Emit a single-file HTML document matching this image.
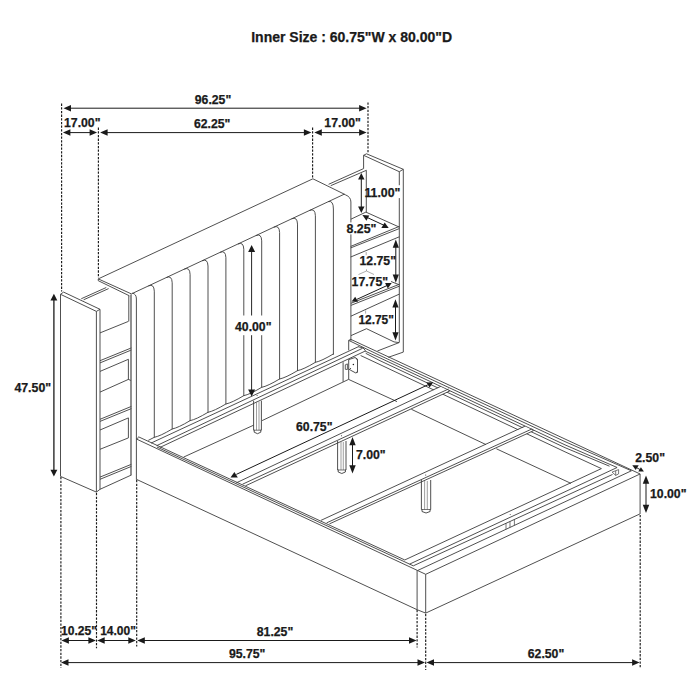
<!DOCTYPE html>
<html><head><meta charset="utf-8"><title>Bed dimensions</title>
<style>
html,body{margin:0;padding:0;background:#fff;}
svg{display:block}
text{font-family:"Liberation Sans",sans-serif;font-weight:bold;fill:#1a1a1a;stroke:#1a1a1a;stroke-width:0.25px}
</style></head><body>
<svg width="700" height="700" viewBox="0 0 700 700">
<rect width="700" height="700" fill="#fff"/>
<polyline points="60.50,476.40 60.50,294.30 63.60,292.10 100.00,309.30 100.00,489.30" fill="none" stroke="#3c3c3c" stroke-width="0.9" stroke-linejoin="round"/>
<polyline points="60.50,294.30 96.40,311.40 96.40,492.10" fill="none" stroke="#3c3c3c" stroke-width="0.9" stroke-linejoin="round"/>
<line x1="96.40" y1="311.40" x2="100.00" y2="309.30" stroke="#3c3c3c" stroke-width="0.9"/>
<polyline points="60.50,476.40 96.40,492.10 100.00,489.30 131.40,475.00" fill="none" stroke="#3c3c3c" stroke-width="0.9" stroke-linejoin="round"/>
<line x1="81.25" y1="298.75" x2="106.25" y2="287.50" stroke="#3c3c3c" stroke-width="0.9"/>
<line x1="83.60" y1="299.80" x2="108.60" y2="288.60" stroke="#3c3c3c" stroke-width="0.9"/>
<line x1="100.00" y1="332.90" x2="128.40" y2="321.40" stroke="#3c3c3c" stroke-width="0.9"/>
<line x1="100.00" y1="360.70" x2="131.40" y2="347.90" stroke="#3c3c3c" stroke-width="0.9"/>
<line x1="100.00" y1="362.90" x2="131.40" y2="350.00" stroke="#3c3c3c" stroke-width="0.9"/>
<line x1="100.00" y1="371.40" x2="128.40" y2="359.30" stroke="#3c3c3c" stroke-width="0.9"/>
<line x1="100.00" y1="392.10" x2="128.40" y2="379.40" stroke="#3c3c3c" stroke-width="0.9"/>
<line x1="128.40" y1="379.40" x2="131.00" y2="380.50" stroke="#3c3c3c" stroke-width="0.9"/>
<line x1="100.00" y1="419.30" x2="131.40" y2="406.40" stroke="#3c3c3c" stroke-width="0.9"/>
<line x1="100.00" y1="421.40" x2="131.40" y2="408.60" stroke="#3c3c3c" stroke-width="0.9"/>
<line x1="100.00" y1="430.00" x2="128.40" y2="417.90" stroke="#3c3c3c" stroke-width="0.9"/>
<line x1="100.00" y1="449.30" x2="128.40" y2="437.90" stroke="#3c3c3c" stroke-width="0.9"/>
<line x1="100.00" y1="477.10" x2="131.40" y2="464.30" stroke="#3c3c3c" stroke-width="0.9"/>
<line x1="100.00" y1="479.30" x2="131.40" y2="466.40" stroke="#3c3c3c" stroke-width="0.9"/>
<line x1="128.80" y1="295.80" x2="128.80" y2="321.40" stroke="#3c3c3c" stroke-width="0.9"/>
<line x1="128.40" y1="359.30" x2="128.40" y2="379.80" stroke="#3c3c3c" stroke-width="0.9"/>
<line x1="128.40" y1="417.90" x2="128.40" y2="437.90" stroke="#3c3c3c" stroke-width="0.9"/>
<line x1="131.00" y1="294.60" x2="131.00" y2="475.20" stroke="#555" stroke-width="1.3"/>
<polyline points="131.40,293.90 98.25,278.90 312.90,178.80 344.30,194.16" fill="none" stroke="#3c3c3c" stroke-width="0.9" stroke-linejoin="round"/>
<polyline points="98.25,278.90 98.25,280.70 129.40,295.80" fill="none" stroke="#3c3c3c" stroke-width="0.9" stroke-linejoin="round"/>
<line x1="131.40" y1="293.90" x2="344.30" y2="194.16" stroke="#3c3c3c" stroke-width="0.9"/>
<path d="M344.3,194.3 L345.6,194.9 Q350.9,197 350.9,202 L350.9,340.5" fill="none" stroke="#3c3c3c" stroke-width="0.9" stroke-linejoin="round" stroke-linecap="round"/>
<path d="M328.6,201.51 Q333.4,200.26 333.4,209 L333.4,354.3" fill="none" stroke="#3c3c3c" stroke-width="0.9" stroke-linejoin="round" stroke-linecap="round"/>
<path d="M132.8,293.2 Q136.4,294 136.4,299 L136.4,479.3" fill="none" stroke="#3c3c3c" stroke-width="0.9" stroke-linejoin="round" stroke-linecap="round"/>
<path d="M148.80,285.75 Q154.00,283.47 154.30,291.17 L154.30,437.30" fill="none" stroke="#3c3c3c" stroke-width="0.9" stroke-linejoin="round" stroke-linecap="round"/>
<path d="M166.70,277.36 Q171.90,275.09 172.20,282.79 L172.20,428.97" fill="none" stroke="#3c3c3c" stroke-width="0.9" stroke-linejoin="round" stroke-linecap="round"/>
<path d="M184.60,268.98 Q189.80,266.70 190.10,274.40 L190.10,420.64" fill="none" stroke="#3c3c3c" stroke-width="0.9" stroke-linejoin="round" stroke-linecap="round"/>
<path d="M202.50,260.59 Q207.70,258.31 208.00,266.01 L208.00,412.30" fill="none" stroke="#3c3c3c" stroke-width="0.9" stroke-linejoin="round" stroke-linecap="round"/>
<path d="M220.40,252.20 Q225.60,249.93 225.90,257.63 L225.90,403.97" fill="none" stroke="#3c3c3c" stroke-width="0.9" stroke-linejoin="round" stroke-linecap="round"/>
<path d="M238.30,243.82 Q243.50,241.54 243.80,249.24 L243.80,395.64" fill="none" stroke="#3c3c3c" stroke-width="0.9" stroke-linejoin="round" stroke-linecap="round"/>
<path d="M256.20,235.43 Q261.40,233.15 261.70,240.85 L261.70,387.31" fill="none" stroke="#3c3c3c" stroke-width="0.9" stroke-linejoin="round" stroke-linecap="round"/>
<path d="M274.10,227.05 Q279.30,224.77 279.60,232.47 L279.60,378.97" fill="none" stroke="#3c3c3c" stroke-width="0.9" stroke-linejoin="round" stroke-linecap="round"/>
<path d="M292.00,218.66 Q297.20,216.38 297.50,224.08 L297.50,370.64" fill="none" stroke="#3c3c3c" stroke-width="0.9" stroke-linejoin="round" stroke-linecap="round"/>
<path d="M309.90,210.27 Q315.10,208.00 315.40,215.70 L315.40,362.31" fill="none" stroke="#3c3c3c" stroke-width="0.9" stroke-linejoin="round" stroke-linecap="round"/>
<path d="M148.6,440.2 L154.30,437.30 Q160.25,436.13 172.20,428.97 Q178.15,427.80 190.10,420.64 Q196.05,419.47 208.00,412.30 Q213.95,411.13 225.90,403.97 Q231.85,402.80 243.80,395.64 Q249.75,394.47 261.70,387.31 Q267.65,386.14 279.60,378.97 Q285.55,377.80 297.50,370.64 Q303.45,369.47 315.40,362.31 Q321.40,361.11 333.40,353.93" fill="none" stroke="#3c3c3c" stroke-width="0.9" stroke-linejoin="round" stroke-linecap="round"/>
<line x1="328.60" y1="184.30" x2="363.60" y2="168.60" stroke="#3c3c3c" stroke-width="0.9"/>
<line x1="330.70" y1="185.70" x2="366.40" y2="170.30" stroke="#3c3c3c" stroke-width="0.9"/>
<polyline points="363.60,168.60 363.60,155.30 366.50,153.80 403.30,169.30 403.30,352.10" fill="none" stroke="#3c3c3c" stroke-width="0.9" stroke-linejoin="round"/>
<polyline points="363.60,155.30 399.30,171.70 399.30,342.50" fill="none" stroke="#3c3c3c" stroke-width="0.9" stroke-linejoin="round"/>
<line x1="399.30" y1="171.70" x2="403.30" y2="169.30" stroke="#3c3c3c" stroke-width="0.9"/>
<line x1="366.30" y1="170.30" x2="366.30" y2="212.30" stroke="#3c3c3c" stroke-width="0.9"/>
<polyline points="350.90,219.20 365.90,212.10 399.50,227.20" fill="none" stroke="#3c3c3c" stroke-width="0.9" stroke-linejoin="round"/>
<line x1="350.70" y1="246.40" x2="399.30" y2="226.40" stroke="#3c3c3c" stroke-width="0.9"/>
<line x1="350.70" y1="247.90" x2="399.30" y2="228.60" stroke="#3c3c3c" stroke-width="0.9"/>
<line x1="350.70" y1="257.00" x2="399.30" y2="236.80" stroke="#3c3c3c" stroke-width="0.9"/>
<line x1="350.90" y1="303.30" x2="399.30" y2="284.30" stroke="#3c3c3c" stroke-width="0.9"/>
<line x1="350.90" y1="305.40" x2="399.30" y2="286.20" stroke="#3c3c3c" stroke-width="0.9"/>
<line x1="350.90" y1="316.20" x2="399.30" y2="294.10" stroke="#3c3c3c" stroke-width="0.9"/>
<line x1="365.60" y1="310.40" x2="365.60" y2="313.60" stroke="#888" stroke-width="0.7"/>
<line x1="391.00" y1="281.50" x2="399.30" y2="284.80" stroke="#3c3c3c" stroke-width="0.9"/>
<polyline points="358.50,274.50 366.50,271.00 374.00,274.50" fill="none" stroke="#777" stroke-width="0.6" stroke-linejoin="round"/>
<line x1="366.50" y1="269.30" x2="366.50" y2="271.00" stroke="#777" stroke-width="0.6"/>
<line x1="366.20" y1="252.00" x2="366.20" y2="255.20" stroke="#888" stroke-width="0.7"/>
<polyline points="351.00,335.60 366.50,328.70 394.00,341.90 399.10,342.60 377.40,351.00" fill="none" stroke="#3c3c3c" stroke-width="0.9" stroke-linejoin="round"/>
<polyline points="403.30,352.10 388.30,357.30" fill="none" stroke="#3c3c3c" stroke-width="0.9" stroke-linejoin="round"/>
<line x1="136.40" y1="439.00" x2="417.58" y2="570.53" stroke="#3c3c3c" stroke-width="0.9"/>
<line x1="157.00" y1="447.04" x2="413.30" y2="565.84" stroke="#3c3c3c" stroke-width="0.9"/>
<line x1="138.40" y1="436.76" x2="404.77" y2="559.96" stroke="#3c3c3c" stroke-width="0.9"/>
<polyline points="136.40,479.30 417.10,609.70 425.70,613.10 640.20,513.80" fill="none" stroke="#3c3c3c" stroke-width="0.9" stroke-linejoin="round"/>
<line x1="136.40" y1="438.80" x2="138.60" y2="437.70" stroke="#3c3c3c" stroke-width="0.9"/>
<line x1="417.10" y1="570.30" x2="417.10" y2="609.70" stroke="#3c3c3c" stroke-width="0.9"/>
<line x1="425.70" y1="574.30" x2="425.70" y2="613.10" stroke="#3c3c3c" stroke-width="0.9"/>
<line x1="417.58" y1="570.53" x2="425.70" y2="574.30" stroke="#3c3c3c" stroke-width="0.9"/>
<line x1="425.70" y1="574.30" x2="640.08" y2="473.97" stroke="#3c3c3c" stroke-width="0.9"/>
<line x1="350.70" y1="339.30" x2="640.08" y2="473.97" stroke="#3c3c3c" stroke-width="0.9"/>
<line x1="417.58" y1="570.53" x2="631.40" y2="470.80" stroke="#3c3c3c" stroke-width="0.9"/>
<polyline points="348.70,340.40 380.00,355.50 565.00,441.62 631.40,470.80" fill="none" stroke="#3c3c3c" stroke-width="0.9" stroke-linejoin="round"/>
<line x1="413.30" y1="565.84" x2="612.50" y2="474.46" stroke="#3c3c3c" stroke-width="0.9"/>
<polyline points="364.90,351.00 380.00,357.90 565.00,444.85 617.10,467.50" fill="none" stroke="#3c3c3c" stroke-width="0.9" stroke-linejoin="round"/>
<line x1="409.60" y1="564.12" x2="617.10" y2="467.50" stroke="#3c3c3c" stroke-width="0.9"/>
<polyline points="365.70,353.30 380.00,360.70 565.00,447.65 609.50,466.20" fill="none" stroke="#3c3c3c" stroke-width="0.9" stroke-linejoin="round"/>
<line x1="404.77" y1="559.96" x2="601.40" y2="468.60" stroke="#3c3c3c" stroke-width="0.9"/>
<polyline points="360.60,355.50 380.00,364.60 565.00,451.83 601.40,468.60" fill="none" stroke="#3c3c3c" stroke-width="0.9" stroke-linejoin="round"/>
<line x1="506.00" y1="523.32" x2="506.00" y2="529.27" stroke="#3c3c3c" stroke-width="0.7"/>
<line x1="510.00" y1="521.48" x2="510.00" y2="527.40" stroke="#3c3c3c" stroke-width="0.7"/>
<line x1="514.40" y1="519.46" x2="514.40" y2="525.35" stroke="#3c3c3c" stroke-width="0.7"/>
<circle cx="510.2" cy="514.6" r="0.5" fill="#444"/>
<polyline points="612.10,472.10 618.60,469.60 618.60,473.90 615.70,475.40 615.70,470.90" fill="none" stroke="#3c3c3c" stroke-width="0.7" stroke-linejoin="round"/>
<line x1="612.10" y1="472.10" x2="615.70" y2="475.40" stroke="#3c3c3c" stroke-width="0.7"/>
<line x1="640.08" y1="473.97" x2="640.08" y2="513.80" stroke="#3c3c3c" stroke-width="0.9"/>
<polyline points="350.90,339.30 348.70,340.40 348.70,350.30" fill="none" stroke="#3c3c3c" stroke-width="0.9" stroke-linejoin="round"/>
<line x1="151.00" y1="443.10" x2="358.40" y2="346.70" stroke="#3c3c3c" stroke-width="0.9"/>
<line x1="156.60" y1="445.70" x2="362.50" y2="348.30" stroke="#3c3c3c" stroke-width="0.9"/>
<line x1="160.00" y1="447.40" x2="364.50" y2="351.40" stroke="#3c3c3c" stroke-width="0.9"/>
<path d="M358.4,346.7 Q364.5,347.5 365.3,350.3 L364.5,351.4" fill="none" stroke="#3c3c3c" stroke-width="0.9" stroke-linejoin="round" stroke-linecap="round"/>
<line x1="343.10" y1="362.20" x2="343.10" y2="381.80" stroke="#3c3c3c" stroke-width="0.9"/>
<line x1="348.70" y1="359.40" x2="348.70" y2="379.40" stroke="#3c3c3c" stroke-width="0.9"/>
<polyline points="348.70,359.60 355.10,357.50 357.50,359.20 357.50,372.30 355.60,372.90 350.40,370.10 348.70,368.90" fill="none" stroke="#3c3c3c" stroke-width="0.9" stroke-linejoin="round"/>
<polygon points="355.1,357.5 357.5,359.2 357.5,361 " fill="#444"/>
<polygon points="357.5,370.8 357.5,372.3 355.6,372.9" fill="#444"/>
<polyline points="345.30,364.80 347.40,363.90 347.40,369.50 345.30,369.30 345.30,364.80" fill="none" stroke="#3c3c3c" stroke-width="0.8" stroke-linejoin="round"/>
<circle cx="353.4" cy="364.4" r="0.75" fill="#222"/>
<circle cx="350.5" cy="368.6" r="0.6" fill="#333"/>
<line x1="183.60" y1="457.10" x2="253.60" y2="425.20" stroke="#3c3c3c" stroke-width="0.9"/>
<line x1="262.10" y1="420.60" x2="348.60" y2="379.40" stroke="#3c3c3c" stroke-width="0.9"/>
<line x1="348.60" y1="379.40" x2="397.00" y2="401.60" stroke="#3c3c3c" stroke-width="0.9"/>
<line x1="411.40" y1="409.30" x2="486.00" y2="444.60" stroke="#3c3c3c" stroke-width="0.9"/>
<line x1="496.40" y1="448.80" x2="571.00" y2="483.40" stroke="#3c3c3c" stroke-width="0.9"/>
<polygon points="420,396.64 440.64,387.00 449.8,391.31 449,391.32 420,404.79" fill="#fff"/>
<line x1="236.30" y1="482.85" x2="440.64" y2="386.40" stroke="#3c3c3c" stroke-width="0.9"/>
<line x1="242.50" y1="484.22" x2="448.60" y2="388.96" stroke="#3c3c3c" stroke-width="0.9"/>
<line x1="245.50" y1="485.81" x2="449.00" y2="391.32" stroke="#3c3c3c" stroke-width="0.9"/>
<path d="M449.2,390.42 Q450.6,391.68 449,391.32" fill="none" stroke="#3c3c3c" stroke-width="0.9" stroke-linejoin="round" stroke-linecap="round"/>
<polygon points="500,438.16 525.06,426.68 533.6,430.69 532.6,431.12 500,446.00" fill="#fff"/>
<line x1="320.90" y1="520.40" x2="525.06" y2="426.08" stroke="#3c3c3c" stroke-width="0.9"/>
<line x1="326.60" y1="522.88" x2="532.20" y2="428.84" stroke="#3c3c3c" stroke-width="0.9"/>
<line x1="329.40" y1="523.90" x2="532.60" y2="431.12" stroke="#3c3c3c" stroke-width="0.9"/>
<path d="M533,429.81 Q534.4,431.07 532.6,431.12" fill="none" stroke="#3c3c3c" stroke-width="0.9" stroke-linejoin="round" stroke-linecap="round"/>
<line x1="253.60" y1="400.70" x2="253.60" y2="430.20" stroke="#3c3c3c" stroke-width="0.9"/>
<line x1="261.40" y1="400.70" x2="261.40" y2="430.20" stroke="#3c3c3c" stroke-width="0.9"/>
<line x1="256.50" y1="401.70" x2="256.50" y2="430.20" stroke="#777" stroke-width="0.7"/>
<line x1="259.00" y1="401.70" x2="259.00" y2="430.20" stroke="#777" stroke-width="0.7"/>
<path d="M254.2,430.2 L254.2,432.2 Q257.5,435.2 260.79999999999995,432.2 L260.79999999999995,430.2" fill="none" stroke="#3c3c3c" stroke-width="0.9" stroke-linejoin="round" stroke-linecap="round"/>
<line x1="253.60" y1="430.20" x2="261.40" y2="430.20" stroke="#3c3c3c" stroke-width="0.7"/>
<line x1="337.60" y1="441.00" x2="337.60" y2="470.00" stroke="#3c3c3c" stroke-width="0.9"/>
<line x1="346.00" y1="441.00" x2="346.00" y2="470.00" stroke="#3c3c3c" stroke-width="0.9"/>
<line x1="341.00" y1="442.00" x2="341.00" y2="470.00" stroke="#777" stroke-width="0.7"/>
<line x1="343.30" y1="442.00" x2="343.30" y2="470.00" stroke="#777" stroke-width="0.7"/>
<path d="M338.20000000000005,470 L338.20000000000005,472 Q341.8,475 345.4,472 L345.4,470" fill="none" stroke="#3c3c3c" stroke-width="0.9" stroke-linejoin="round" stroke-linecap="round"/>
<line x1="337.60" y1="470.00" x2="346.00" y2="470.00" stroke="#3c3c3c" stroke-width="0.7"/>
<line x1="421.40" y1="480.00" x2="421.40" y2="509.50" stroke="#3c3c3c" stroke-width="0.9"/>
<line x1="430.70" y1="480.00" x2="430.70" y2="509.50" stroke="#3c3c3c" stroke-width="0.9"/>
<line x1="424.60" y1="481.00" x2="424.60" y2="509.50" stroke="#777" stroke-width="0.7"/>
<line x1="427.30" y1="481.00" x2="427.30" y2="509.50" stroke="#777" stroke-width="0.7"/>
<path d="M422.0,509.5 L422.0,511.5 Q426.04999999999995,514.5 430.09999999999997,511.5 L430.09999999999997,509.5" fill="none" stroke="#3c3c3c" stroke-width="0.9" stroke-linejoin="round" stroke-linecap="round"/>
<line x1="421.40" y1="509.50" x2="430.70" y2="509.50" stroke="#3c3c3c" stroke-width="0.7"/>
<circle cx="257.1" cy="395.5" r="0.55" fill="#333"/>
<circle cx="341.5" cy="435.8" r="0.55" fill="#333"/>
<circle cx="425.7" cy="475" r="0.55" fill="#333"/>
<line x1="61.60" y1="103.60" x2="61.60" y2="291.50" stroke="#1a1a1a" stroke-width="1.15" stroke-dasharray="2.3 1.36"/>
<line x1="98.40" y1="127.60" x2="98.40" y2="278.00" stroke="#1a1a1a" stroke-width="1.15" stroke-dasharray="2.3 1.36"/>
<line x1="312.60" y1="127.60" x2="312.60" y2="178.50" stroke="#1a1a1a" stroke-width="1.15" stroke-dasharray="2.3 1.36"/>
<line x1="368.00" y1="102.40" x2="368.00" y2="152.50" stroke="#1a1a1a" stroke-width="1.15" stroke-dasharray="2.3 1.36"/>
<line x1="69.50" y1="108.20" x2="360.60" y2="108.20" stroke="#1a1a1a" stroke-width="1.0"/>
<polygon points="63.50,108.20 71.00,104.95 71.00,111.45" fill="#1a1a1a"/>
<polygon points="366.60,108.20 359.10,111.45 359.10,104.95" fill="#1a1a1a"/>
<line x1="68.90" y1="132.60" x2="91.10" y2="132.60" stroke="#1a1a1a" stroke-width="1.0"/>
<polygon points="62.90,132.60 70.40,129.35 70.40,135.85" fill="#1a1a1a"/>
<polygon points="97.10,132.60 89.60,135.85 89.60,129.35" fill="#1a1a1a"/>
<line x1="106.10" y1="132.60" x2="305.40" y2="132.60" stroke="#1a1a1a" stroke-width="1.0"/>
<polygon points="100.10,132.60 107.60,129.35 107.60,135.85" fill="#1a1a1a"/>
<polygon points="311.40,132.60 303.90,135.85 303.90,129.35" fill="#1a1a1a"/>
<line x1="320.30" y1="132.60" x2="360.60" y2="132.60" stroke="#1a1a1a" stroke-width="1.0"/>
<polygon points="314.30,132.60 321.80,129.35 321.80,135.85" fill="#1a1a1a"/>
<polygon points="366.60,132.60 359.10,135.85 359.10,129.35" fill="#1a1a1a"/>
<line x1="60.90" y1="477.00" x2="60.90" y2="667.70" stroke="#1a1a1a" stroke-width="1.15" stroke-dasharray="2.3 1.36"/>
<line x1="96.50" y1="493.00" x2="96.50" y2="648.20" stroke="#1a1a1a" stroke-width="1.15" stroke-dasharray="2.3 1.36"/>
<line x1="136.70" y1="480.00" x2="136.70" y2="646.50" stroke="#1a1a1a" stroke-width="1.15" stroke-dasharray="2.3 1.36"/>
<line x1="417.10" y1="610.00" x2="417.10" y2="647.50" stroke="#1a1a1a" stroke-width="1.15" stroke-dasharray="2.3 1.36"/>
<line x1="425.70" y1="614.00" x2="425.70" y2="670.00" stroke="#1a1a1a" stroke-width="1.15" stroke-dasharray="2.3 1.36"/>
<line x1="640.20" y1="515.00" x2="640.20" y2="667.50" stroke="#1a1a1a" stroke-width="1.15" stroke-dasharray="2.3 1.36"/>
<line x1="67.40" y1="640.50" x2="89.90" y2="640.50" stroke="#1a1a1a" stroke-width="1.0"/>
<polygon points="61.40,640.50 68.90,637.25 68.90,643.75" fill="#1a1a1a"/>
<polygon points="95.90,640.50 88.40,643.75 88.40,637.25" fill="#1a1a1a"/>
<line x1="103.20" y1="640.50" x2="129.80" y2="640.50" stroke="#1a1a1a" stroke-width="1.0"/>
<polygon points="97.20,640.50 104.70,637.25 104.70,643.75" fill="#1a1a1a"/>
<polygon points="135.80,640.50 128.30,643.75 128.30,637.25" fill="#1a1a1a"/>
<line x1="143.30" y1="640.50" x2="410.50" y2="640.50" stroke="#1a1a1a" stroke-width="1.0"/>
<polygon points="137.30,640.50 144.80,637.25 144.80,643.75" fill="#1a1a1a"/>
<polygon points="416.50,640.50 409.00,643.75 409.00,637.25" fill="#1a1a1a"/>
<line x1="67.00" y1="662.60" x2="419.00" y2="662.60" stroke="#1a1a1a" stroke-width="1.0"/>
<polygon points="61.00,662.60 68.50,659.35 68.50,665.85" fill="#1a1a1a"/>
<polygon points="425.00,662.60 417.50,665.85 417.50,659.35" fill="#1a1a1a"/>
<line x1="432.50" y1="662.60" x2="633.60" y2="662.60" stroke="#1a1a1a" stroke-width="1.0"/>
<polygon points="426.50,662.60 434.00,659.35 434.00,665.85" fill="#1a1a1a"/>
<polygon points="639.60,662.60 632.10,665.85 632.10,659.35" fill="#1a1a1a"/>
<line x1="53.90" y1="299.14" x2="53.90" y2="471.16" stroke="#1a1a1a" stroke-width="1.3"/>
<polygon points="53.90,293.70 57.35,300.50 50.45,300.50" fill="#1a1a1a"/>
<polygon points="53.90,476.60 50.45,469.80 57.35,469.80" fill="#1a1a1a"/>
<line x1="251.60" y1="250.52" x2="251.60" y2="390.88" stroke="#1a1a1a" stroke-width="0.95"/>
<polygon points="251.60,245.00 255.10,251.90 248.10,251.90" fill="#1a1a1a"/>
<polygon points="251.60,396.40 248.10,389.50 255.10,389.50" fill="#1a1a1a"/>
<line x1="361.30" y1="178.28" x2="361.30" y2="207.72" stroke="#1a1a1a" stroke-width="1.0"/>
<polygon points="361.30,173.00 364.50,179.60 358.10,179.60" fill="#1a1a1a"/>
<polygon points="361.30,213.00 358.10,206.40 364.50,206.40" fill="#1a1a1a"/>
<polygon points="362.4,215 369.3,215.6 366.4,220.7" fill="#1a1a1a"/>
<polygon points="384.7,222.4 388.7,227.9 381.3,227.9" fill="#1a1a1a"/>
<line x1="366.80" y1="217.30" x2="385.30" y2="225.90" stroke="#1a1a1a" stroke-width="1.0"/>
<line x1="395.80" y1="246.14" x2="395.80" y2="276.16" stroke="#1a1a1a" stroke-width="1.0"/>
<polygon points="395.80,239.50 398.90,247.80 392.70,247.80" fill="#1a1a1a"/>
<polygon points="395.80,282.80 392.70,274.50 398.90,274.50" fill="#1a1a1a"/>
<polygon points="385.1,282.9 391.7,282.9 387.8,288.6" fill="#1a1a1a"/>
<polygon points="355.2,296.8 358.1,301.8 351.6,301.4" fill="#1a1a1a"/>
<line x1="356.80" y1="299.40" x2="387.80" y2="285.20" stroke="#1a1a1a" stroke-width="1.0"/>
<line x1="395.50" y1="305.84" x2="395.50" y2="333.96" stroke="#1a1a1a" stroke-width="1.0"/>
<polygon points="395.50,299.20 398.60,307.50 392.40,307.50" fill="#1a1a1a"/>
<polygon points="395.50,340.60 392.40,332.30 398.60,332.30" fill="#1a1a1a"/>
<line x1="236.30" y1="474.40" x2="427.90" y2="384.80" stroke="#1a1a1a" stroke-width="1.0"/>
<polygon points="234.4,472.1 230.5,477.6 237.8,477.4" fill="#1a1a1a"/>
<polygon points="426.4,382.4 433.2,382.2 429.6,387.6" fill="#1a1a1a"/>
<line x1="352.50" y1="443.64" x2="352.50" y2="466.86" stroke="#1a1a1a" stroke-width="1.0"/>
<polygon points="352.50,437.00 355.70,445.30 349.30,445.30" fill="#1a1a1a"/>
<polygon points="352.50,473.50 349.30,465.20 355.70,465.20" fill="#1a1a1a"/>
<line x1="646.00" y1="482.14" x2="646.00" y2="506.46" stroke="#1a1a1a" stroke-width="1.0"/>
<polygon points="646.00,475.50 649.25,483.80 642.75,483.80" fill="#1a1a1a"/>
<polygon points="646.00,513.10 642.75,504.80 649.25,504.80" fill="#1a1a1a"/>
<polygon points="632.3,465.3 638.7,465.3 635.7,470" fill="#1a1a1a"/>
<polygon points="640.9,467.2 643.9,471.5 638.3,471.5" fill="#1a1a1a"/>
<line x1="636.50" y1="467.60" x2="640.50" y2="469.80" stroke="#1a1a1a" stroke-width="0.9"/>
<rect x="233.50" y="315.50" width="39.50" height="19.70" fill="#fff"/>
<rect x="397.50" y="185.20" width="4.10" height="12.90" fill="#fff"/>
<rect x="346.50" y="222.40" width="6.00" height="12.00" fill="#fff"/>
<text x="251.20" y="41.60" font-size="14.0" text-anchor="start">Inner Size : 60.75&quot;W x 80.00&quot;D</text>
<text x="213.00" y="103.50" font-size="12.25" text-anchor="middle">96.25&quot;</text>
<text x="64.00" y="127.00" font-size="12.25" text-anchor="start">17.00&quot;</text>
<text x="212.20" y="128.00" font-size="12.25" text-anchor="middle">62.25&quot;</text>
<text x="342.60" y="126.60" font-size="12.25" text-anchor="middle">17.00&quot;</text>
<text x="364.40" y="196.50" font-size="12.35" text-anchor="start">11.00&quot;</text>
<text x="346.50" y="233.20" font-size="12.4" text-anchor="start">8.25&quot;</text>
<text x="359.50" y="265.30" font-size="12.25" text-anchor="start">12.75&quot;</text>
<text x="351.60" y="285.50" font-size="12.25" text-anchor="start">17.75&quot;</text>
<text x="358.40" y="324.30" font-size="11.95" text-anchor="start">12.75&quot;</text>
<text x="235.00" y="330.50" font-size="12.25" text-anchor="start">40.00&quot;</text>
<text x="14.40" y="392.20" font-size="12.35" text-anchor="start">47.50&quot;</text>
<text x="296.00" y="430.60" font-size="12.25" text-anchor="start">60.75&quot;</text>
<text x="356.00" y="458.50" font-size="12.25" text-anchor="start">7.00&quot;</text>
<text x="635.30" y="462.40" font-size="12.25" text-anchor="start">2.50&quot;</text>
<text x="650.00" y="498.10" font-size="12.25" text-anchor="start">10.00&quot;</text>
<text x="61.00" y="634.70" font-size="12.1" text-anchor="start">10.25&quot;</text>
<text x="100.20" y="634.70" font-size="12.0" text-anchor="start">14.00&quot;</text>
<text x="275.00" y="635.50" font-size="12.25" text-anchor="middle">81.25&quot;</text>
<text x="247.20" y="657.60" font-size="12.25" text-anchor="middle">95.75&quot;</text>
<text x="546.00" y="657.70" font-size="12.25" text-anchor="middle">62.50&quot;</text>
</svg>
</body></html>
